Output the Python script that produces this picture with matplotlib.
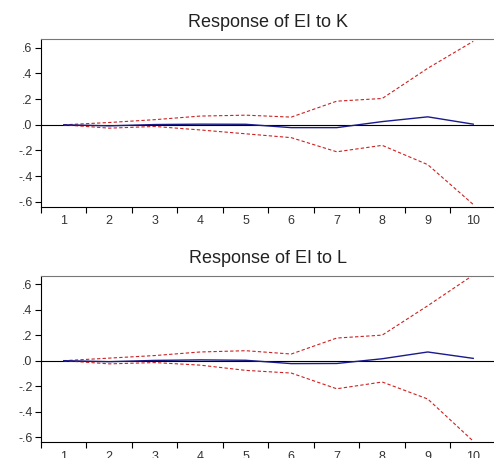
import numpy as np
import matplotlib
matplotlib.use('Agg')
import matplotlib.pyplot as plt

plt.rcParams['font.family'] = ['Liberation Sans', 'DejaVu Sans']

periods = np.arange(1, 11)

# Response of EI to K
resp_k = [0.0, -0.008, 0.002, 0.005, 0.004, -0.022, -0.022, 0.025, 0.062, 0.005]
upper_k = [0.0, 0.018, 0.04, 0.068, 0.075, 0.06, 0.184, 0.205, 0.44, 0.65]
lower_k = [0.0, -0.026, -0.013, -0.04, -0.07, -0.1, -0.21, -0.16, -0.31, -0.62]

# Response of EI to L
resp_l = [0.0, -0.008, 0.002, 0.006, 0.003, -0.023, -0.022, 0.015, 0.068, 0.018]
upper_l = [0.0, 0.02, 0.04, 0.068, 0.078, 0.052, 0.177, 0.2, 0.43, 0.67]
lower_l = [0.0, -0.025, -0.015, -0.035, -0.076, -0.097, -0.22, -0.167, -0.3, -0.63]

yticks = [-0.6, -0.4, -0.2, 0.0, 0.2, 0.4, 0.6]
ytick_labels = ['-.6', '-.4', '-.2', '.0', '.2', '.4', '.6']


def draw_panel(ax, resp, upper, lower, title):
    ax.axhline(0, color='black', lw=0.8, zorder=1)
    ax.plot(periods, upper, color='#cc2222', lw=0.8, ls=(0, (3, 2)), zorder=2)
    ax.plot(periods, lower, color='#cc2222', lw=0.8, ls=(0, (3, 2)), zorder=2)
    ax.plot(periods, resp, color='#1a1a8c', lw=1.0, zorder=3)
    ax.set_xlim(0.5, 10.5)
    ax.set_ylim(-0.64, 0.665)
    ax.set_yticks(yticks)
    ax.set_yticklabels(ytick_labels)
    # ticks between periods, labels at the periods
    ax.set_xticks(np.arange(0.5, 10.6, 1.0))
    ax.set_xticklabels([])
    ax.set_xticks(periods, minor=True)
    ax.set_xticklabels([str(p) for p in periods], minor=True)
    ax.tick_params(axis='x', which='minor', length=0, pad=6, labelsize=9, labelcolor='#333333')
    ax.tick_params(axis='x', which='major', length=4, width=0.8, direction='out')
    ax.tick_params(axis='y', length=4, width=0.8, direction='out', pad=2, labelsize=9, labelcolor='#333333')
    ax.spines['right'].set_visible(False)
    ax.spines['top'].set_color('#777777')
    ax.set_title(title, fontsize=13, pad=9, color='#222222')


fig = plt.figure(figsize=(4.94, 4.58), dpi=100)
ax1 = fig.add_axes([0.083, 0.548, 0.921, 0.366])
ax2 = fig.add_axes([0.083, 0.034, 0.921, 0.364])

draw_panel(ax1, resp_k, upper_k, lower_k, 'Response of EI to K')
draw_panel(ax2, resp_l, upper_l, lower_l, 'Response of EI to L')

# main title, cut off by the top edge
fig.text(0.5, 1.006, 'Response to Cholesky One S.D. (d.f. adjusted) Innovations \u00b1 2 S.E.',
         ha='center', va='baseline', fontsize=12, fontweight='bold')

fig.savefig('out.png', dpi=100)
